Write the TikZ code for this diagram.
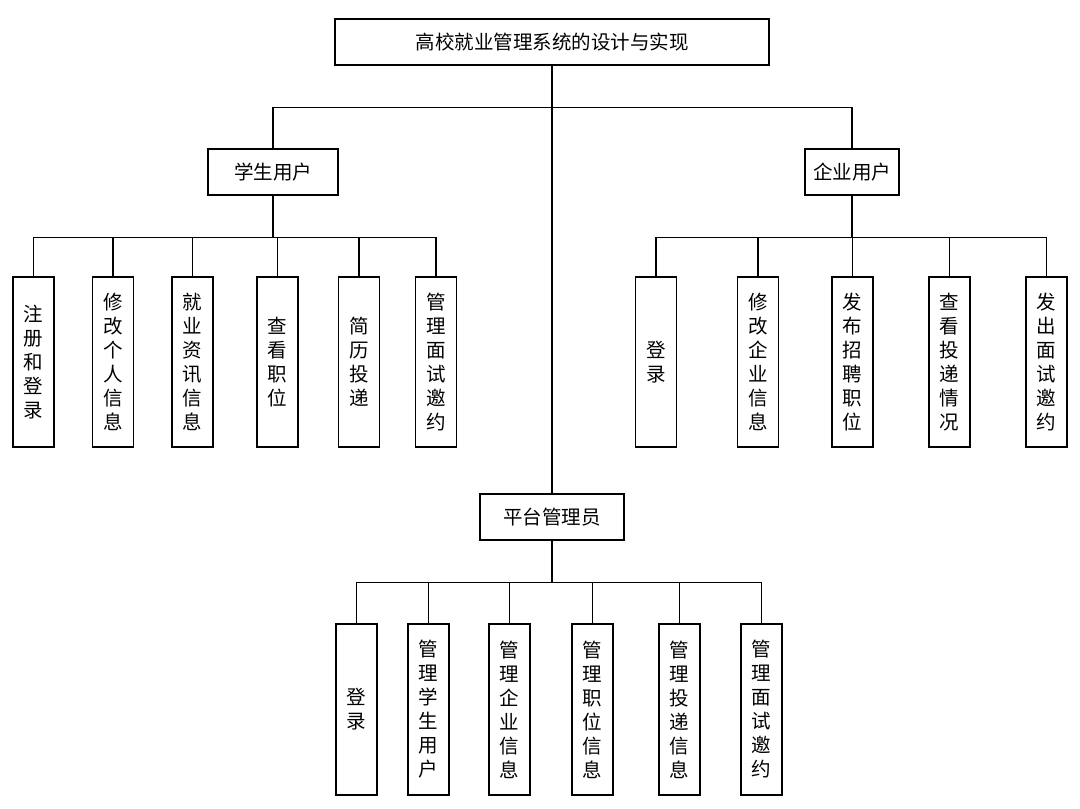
\documentclass[tikz,border=0pt]{standalone}
\usepackage{fontspec}
\setmainfont{Noto Sans CJK SC}
\usetikzlibrary{positioning}

\begin{document}
\begin{tikzpicture}[
    x=1pt, y=1pt,
    box/.style={draw, line width=1.1pt, inner sep=0pt, minimum height=46pt,
                font=\fontsize{19.5}{24}\selectfont, align=center},
    leaf/.style={box, minimum width=41pt, minimum height=170pt},
    link/.style={line width=1.1pt}
  ]
  \useasboundingbox (0,0) rectangle (1080,809);

  % top level
  \node[box, minimum width=434pt] (sys) at (552,767) {高校就业管理系统的设计与实现};
  \node[box, minimum width=130pt] (stu) at (273,637) {学生用户};
  \node[box, minimum width=94pt] (ent) at (852,637) {企业用户};
  \node[box, minimum width=144pt] (adm) at (552,292) {平台管理员};

  \draw[link] (sys.south) -- ++(0,-42) -| (stu.north);
  \draw[link] (sys.south) -- ++(0,-42) -| (ent.north);
  \draw[link] (sys.south) -- (adm.north);

  % student functions
  \foreach \x/\txt [count=\i] in {33.5/{注\\册\\和\\登\\录}, 113/{修\\改\\个\\人\\信\\息},
      192.5/{就\\业\\资\\讯\\信\\息}, 277.5/{查\\看\\职\\位}, 359/{简\\历\\投\\递},
      436/{管\\理\\面\\试\\邀\\约}}
    \node[leaf] (stu\i) at (\x,447) {\txt};
  \foreach \i in {1,...,6}
    \draw[link] (stu.south) -- ++(0,-42) -| (stu\i.north);

  % enterprise functions
  \foreach \x/\txt [count=\i] in {656/{登\\录}, 758/{修\\改\\企\\业\\信\\息},
      852.5/{发\\布\\招\\聘\\职\\位}, 949.5/{查\\看\\投\\递\\情\\况},
      1046.5/{发\\出\\面\\试\\邀\\约}}
    \node[leaf] (ent\i) at (\x,447) {\txt};
  \foreach \i in {1,...,5}
    \draw[link] (ent.south) -- ++(0,-42) -| (ent\i.north);

  % admin functions
  \foreach \x/\txt [count=\i] in {356.5/{登\\录}, 428.5/{管\\理\\学\\生\\用\\户},
      509.5/{管\\理\\企\\业\\信\\息}, 592.5/{管\\理\\职\\位\\信\\息},
      679.5/{管\\理\\投\\递\\信\\息}, 761.5/{管\\理\\面\\试\\邀\\约}}
    \node[leaf, minimum height=171pt] (adm\i) at (\x,99.5) {\txt};
  \foreach \i in {1,...,6}
    \draw[link] (adm.south) -- ++(0,-42) -| (adm\i.north);
\end{tikzpicture}
\end{document}
